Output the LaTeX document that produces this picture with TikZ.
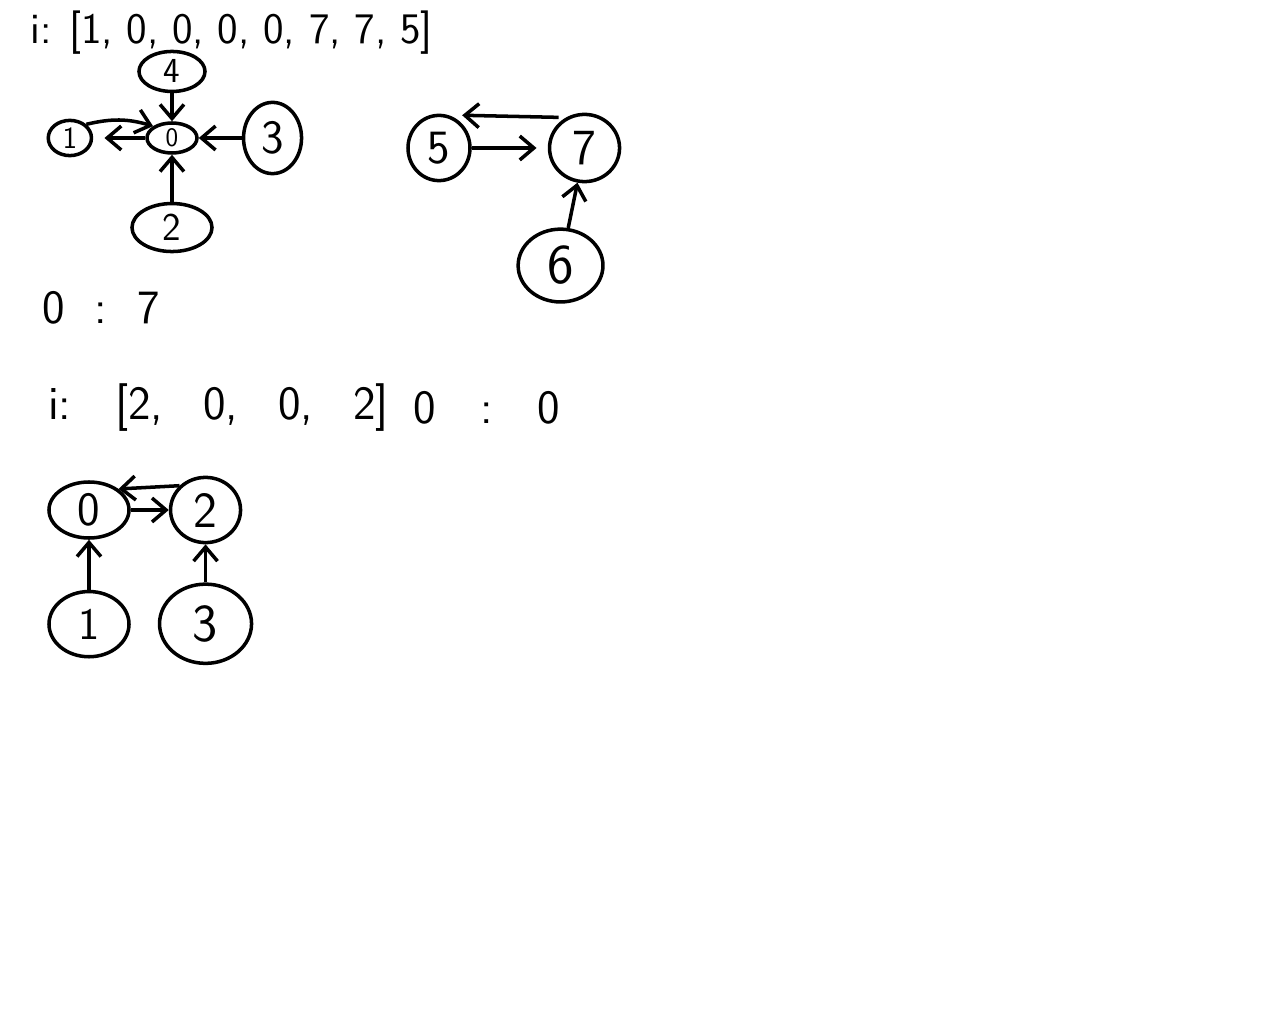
\documentclass[tikz,border=0pt]{standalone}
\usetikzlibrary{arrows.meta,positioning,shapes.geometric}

\begin{document}
\begin{tikzpicture}[
  x=0.025cm, y=-0.025cm,
  vtx/.style={ellipse, draw, line width=2.5pt, inner sep=0pt,
    font=\sffamily\fontsize{#1}{#1}\selectfont},
  arr/.style={-{Straight Barb[length=10pt,width=17pt]}, line width=2.5pt},
  lbl/.style={anchor=west, inner sep=0pt, font=\sffamily\fontsize{34}{36}\selectfont},
]
  \useasboundingbox (0,0) rectangle (1280,1024);

  \node[lbl, font=\sffamily\fontsize{31}{33}\selectfont] (head1) at (30,33) {i: [1, 0, 0, 0, 0, 7, 7, 5]};

  % first forest
  \node[vtx=19, minimum width=1.25cm, minimum height=0.75cm] (z0) at (172,138) {0};
  \node[vtx=25, minimum width=1.65cm, minimum height=1.0cm, above=0.7cm of z0] (z4) {4};
  \node[vtx=22, minimum width=1.08cm, minimum height=0.88cm, left=1.3cm of z0] (z1) {1};
  \node[vtx=34, minimum width=1.45cm, minimum height=1.78cm, right=1.075cm of z0] (z3) {3};
  \node[vtx=28, minimum width=2.0cm, minimum height=1.2cm, below=1.175cm of z0] (z2) {2};

  \draw[arr] (z4) -- (z0);
  \draw[arr] (z3) -- (z0);
  \draw[arr] (z2) -- (z0);
  \draw[arr, shorten >=8pt] (z0) -- (z1);
  \draw[arr] (z1.north east) to[bend left=15] (z0.north west);

  \node[vtx=34, minimum width=1.55cm, minimum height=1.63cm] (s5) at (439,148) {5};
  \node[vtx=36, minimum width=1.75cm, minimum height=1.68cm, right=1.9cm of s5] (s7) {7};
  \node[vtx=40, minimum width=2.12cm, minimum height=1.82cm, below=1.1cm of s7, xshift=-0.6cm] (s6) {6};

  \draw[arr] ([yshift=4pt]s7.north west) -- ([yshift=6pt]s5.north east);
  \draw[arr, shorten >=8pt] (s5) -- (s7);
  \draw[arr] (s6) -- (s7);

  \node[lbl] (res1) at (42,308) {0\ \ :\ \ 7};

  % second forest
  \node[lbl] (head2) at (48,408) {i:\hspace{1.1cm}[2,\hspace{1cm}0,\hspace{1cm}0,\hspace{1cm}2]};
  \node[lbl] (res2) at (413,408) {0\ \ \ :\ \ \ 0};

  \node[vtx=34, minimum width=2.0cm, minimum height=1.4cm] (b0) at (89,510) {0};
  \node[vtx=36, minimum width=1.75cm, minimum height=1.63cm, right=0.95cm of b0] (b2) {2};
  \node[vtx=32, minimum width=2.0cm, minimum height=1.63cm, below=1.25cm of b0] (b1) {1};
  \node[vtx=38, minimum width=2.3cm, minimum height=1.98cm, below=0.95cm of b2] (b3) {3};

  \draw[arr] (b2.north west) -- (b0.north east);
  \draw[arr] (b0) -- (b2);
  \draw[arr] (b1) -- (b0);
  \draw[arr] (b3) -- (b2);
\end{tikzpicture}
\end{document}
